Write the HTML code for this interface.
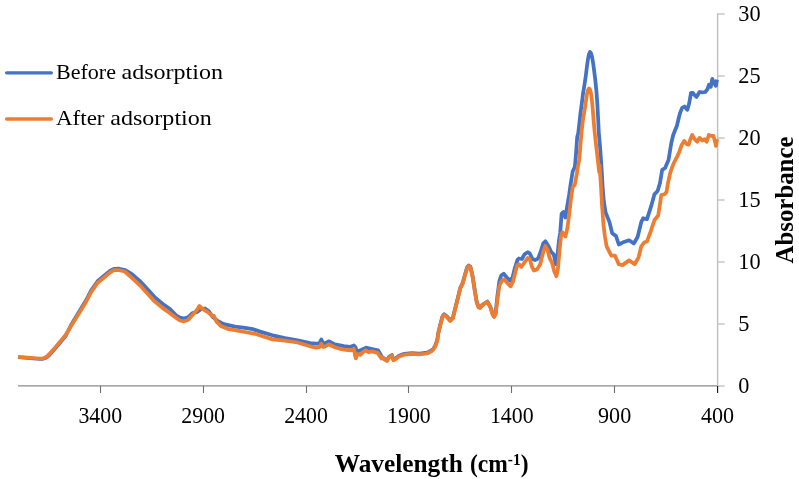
<!DOCTYPE html>
<html><head><meta charset="utf-8"><style>
html,body{margin:0;padding:0;background:#fff;}
svg{display:block;will-change:transform;}
.tl{font-family:"Liberation Serif",serif;font-size:22.3px;fill:#000;}
.lg{font-family:"Liberation Serif",serif;font-size:22px;fill:#000;}
.at{font-family:"Liberation Serif",serif;font-size:24.5px;font-weight:bold;fill:#000;}
</style></head><body>
<svg width="799" height="479" viewBox="0 0 799 479">
<line x1="18" y1="385.9" x2="717.6" y2="385.9" stroke="#8a8a8a" stroke-width="1.3"/>
<line x1="717.6" y1="13.3" x2="717.6" y2="386.5" stroke="#bfbfbf" stroke-width="1.4"/>
<line x1="717.6" y1="386.00" x2="724.7" y2="386.00" stroke="#bfbfbf" stroke-width="1.3"/>
<text x="738.3" y="392.60" class="tl">0</text>
<line x1="717.6" y1="324.00" x2="724.7" y2="324.00" stroke="#bfbfbf" stroke-width="1.3"/>
<text x="738.3" y="330.60" class="tl">5</text>
<line x1="717.6" y1="262.00" x2="724.7" y2="262.00" stroke="#bfbfbf" stroke-width="1.3"/>
<text x="738.3" y="268.60" class="tl">10</text>
<line x1="717.6" y1="200.00" x2="724.7" y2="200.00" stroke="#bfbfbf" stroke-width="1.3"/>
<text x="738.3" y="206.60" class="tl">15</text>
<line x1="717.6" y1="138.00" x2="724.7" y2="138.00" stroke="#bfbfbf" stroke-width="1.3"/>
<text x="738.3" y="144.60" class="tl">20</text>
<line x1="717.6" y1="76.00" x2="724.7" y2="76.00" stroke="#bfbfbf" stroke-width="1.3"/>
<text x="738.3" y="82.60" class="tl">25</text>
<line x1="717.6" y1="14.00" x2="724.7" y2="14.00" stroke="#bfbfbf" stroke-width="1.3"/>
<text x="738.3" y="20.60" class="tl">30</text>
<line x1="100.50" y1="386" x2="100.50" y2="393" stroke="#6e6e6e" stroke-width="1.1"/>
<text x="100.29" y="423.3" class="tl" text-anchor="middle" textLength="43.7" lengthAdjust="spacingAndGlyphs">3400</text>
<line x1="203.50" y1="386" x2="203.50" y2="393" stroke="#6e6e6e" stroke-width="1.1"/>
<text x="203.16" y="423.3" class="tl" text-anchor="middle" textLength="43.7" lengthAdjust="spacingAndGlyphs">2900</text>
<line x1="306.50" y1="386" x2="306.50" y2="393" stroke="#6e6e6e" stroke-width="1.1"/>
<text x="306.03" y="423.3" class="tl" text-anchor="middle" textLength="43.7" lengthAdjust="spacingAndGlyphs">2400</text>
<line x1="408.50" y1="386" x2="408.50" y2="393" stroke="#6e6e6e" stroke-width="1.1"/>
<text x="408.90" y="423.3" class="tl" text-anchor="middle" textLength="43.7" lengthAdjust="spacingAndGlyphs">1900</text>
<line x1="511.50" y1="386" x2="511.50" y2="393" stroke="#6e6e6e" stroke-width="1.1"/>
<text x="511.76" y="423.3" class="tl" text-anchor="middle" textLength="43.7" lengthAdjust="spacingAndGlyphs">1400</text>
<line x1="614.50" y1="386" x2="614.50" y2="393" stroke="#6e6e6e" stroke-width="1.1"/>
<text x="614.63" y="423.3" class="tl" text-anchor="middle" textLength="33.2" lengthAdjust="spacingAndGlyphs">900</text>
<line x1="717.60" y1="386" x2="717.60" y2="393" stroke="#111" stroke-width="1.1"/>
<text x="717.50" y="423.3" class="tl" text-anchor="middle" textLength="33.2" lengthAdjust="spacingAndGlyphs">400</text>
<polyline points="18,357.2 27.5,358 33,358.5 40.1,359 43,358.8 45.5,358 47.5,356.7 49.5,354.8 52.5,351.4 55.7,347.8 59,344 62,340.4 65.6,336 71.4,324.5 77.3,314.8 82,307 86,300.5 90.9,290.8 97.6,281.2 104.4,275.5 109.9,271 113.9,268.8 119.3,268.7 124.8,270 131.6,273.8 139.7,280.9 147.8,289.6 154.6,297.1 162.8,303.9 170,309.1 176.3,315.5 180,317.7 184,318.6 188,317.3 192.5,313 197.5,311.9 201.3,308.8 205,308.5 208.8,311.3 212.6,316.9 217.6,321 223.8,324.1 235.1,326.6 245.1,327.9 252.6,329.1 260.1,331.6 272.5,335.3 285,338.1 297.5,340.3 310.1,343.2 316.3,343.7 319.3,343.3 321.3,339.5 323.2,343.3 325.1,343.2 329.1,341.3 334.8,344.3 343.8,346.2 349.8,346.9 353.9,345.4 355.5,347.3 357,351.8 361.1,349.9 366,347.7 370.9,348.8 378,350.3 381.5,356.3 384.5,359 387,360.2 389.3,356.5 391.9,355 393.4,359.5 396,358 399,355.7 404.3,353.9 411.8,353.1 419.4,353.5 426.9,352.7 431.4,350.5 433.5,348.5 435.1,346 436.5,342.2 437.4,339.2 438.2,333.3 440.7,323 442.5,316.3 444.1,314.2 446.8,316.3 450.2,320.3 452.9,317.6 455.6,306.8 458.3,295.9 460.3,287.8 462.4,283.7 465.1,274.2 467.1,267.4 468.7,265.4 470.5,266.8 472.5,275.6 474.6,289.1 476.6,301.3 478.6,306.8 480.1,307.4 481.8,305.8 484.5,303.5 487.4,301.6 490.5,307 492.4,313.3 494,316.3 495.6,313.5 497.4,296 499.3,281.5 501.2,275.5 503.7,273.8 506.8,277.5 510,280.7 512.5,277.5 515,267.5 517.5,259.8 518.8,258.5 521.9,259 524.5,254.3 527.7,252.2 529.7,253.3 532.4,259 535,260.1 538.1,258.5 540.7,251.7 543.3,243.4 545.4,241.3 548,245.4 551.1,251.7 553.8,254.6 555.8,264.2 557.4,255.9 559,240.2 560.2,233 561.6,213.8 563.5,211.9 565.4,217.5 567.2,206.3 569.1,195 570.7,183.8 572.7,171.3 574.8,167.1 575.5,160 576.3,150 577.2,137 578.2,133.5 579.3,124 580.5,113 581.6,105 583.1,93 584.6,84 585.9,75 587,66 588,59 589,54 590,52 591,53.2 592,56.5 593.2,63.5 594.3,72 595.3,80 596.5,92 597.4,105 598.2,120 598.8,132.6 600,146 601,160 601.8,172 602.8,190 603.8,201.3 605.6,212.5 609.4,221.9 612.2,233.2 616,236 618.8,244.5 622.5,242.6 629.1,240.3 633.8,243.5 637.6,237 641.3,221.9 643.2,218.2 647,219.1 651,206.7 654.4,194.4 657.6,191 660,183 662.2,169.8 665.1,168 668.5,160 670,151 671.3,143 673.2,135 676.9,125.7 679,117 680.2,112.6 682.1,107.9 684.5,106.5 687.3,109.8 689.2,103.2 691,92.8 692.9,92.8 694.4,95 696.5,97 696.6,96.8 699.5,92 702.4,92.4 705.3,92 707.5,89.1 709,84.7 710.8,86.9 712.3,78.9 714.1,83.3 715.9,85.8 717,79.6" fill="none" stroke="#4472C4" stroke-width="3.75" stroke-linejoin="round" stroke-linecap="butt"/>
<polyline points="18,356.9 27.5,357.6 33,358 40.1,358.5 43,358.3 45.5,357.4 47.5,356 49.5,353.9 52.5,350.5 55.7,346.9 59,343 62,339.4 65.6,335 71.4,325.6 77.3,316.1 82,308.5 86,302 90.9,292.3 97.6,282.8 104.4,277.2 109.9,272.5 113.9,270.2 119.3,270.2 124.8,271.5 131.6,277.6 139.7,285.1 147.8,293.9 154.6,301.4 162.8,308.1 169.6,312.9 176.3,318 180,320.5 184,321.3 188,320 192.5,315 196.9,310 199.4,306 202.5,308.8 207.5,311.9 212.6,316.3 213.8,315.7 216.3,321.3 221.3,326.3 227.6,328.8 237.6,330.6 247.6,332.5 255.1,333.8 262.6,336.3 272.5,339.4 285,340.7 297.5,342.5 310.1,346.3 316.3,347.7 319.3,347.2 321.3,343.8 323.2,347 325.1,346.5 328.8,344.3 334.8,347.3 340,348.8 346,349.9 351.3,350.3 353.9,348.8 355.1,355.6 355.8,358.4 357,354.1 360.3,354.8 361.8,353.3 365.6,350.3 368.6,352.2 371.6,351.4 377.6,352.9 381.4,358.4 381.8,357.3 384.5,359.5 387,361 389.3,357.3 391.9,355.8 393.4,360.3 396,358.8 399,356.5 404.3,354.7 411.8,353.9 419.4,354.3 426.9,353.5 431.4,351.3 433.5,349.3 435.1,346.8 436.5,343 437.4,340 438.2,333.8 440.7,323.7 442.5,317 444.1,314.9 446.8,317 450.2,321 452.9,318.3 455.6,307.5 458.3,296.6 460.3,288.5 462.4,284.4 465.1,274.9 467.1,268.1 468.7,266.1 470.5,267.5 472.5,276.3 474.6,289.8 476.6,302 478.6,307.5 480.1,308.1 481.8,305.1 484.5,303.5 487.4,302 490.5,307.6 492.4,313.9 494,317 495.6,314.5 497.4,300.1 499.3,286.3 501.8,280.7 504.3,279.4 508.1,283.8 510.6,286.3 513.1,281.3 515.6,271.3 517.2,265.3 518.8,264.2 521.4,266.8 524,263.2 527.7,258 529.7,259 531.8,266.3 533.9,270.5 537.1,269.4 540.2,264.2 543.3,251.7 545.4,246 547.5,249.6 549.6,258 552.2,263.2 554.3,271.5 556.4,276.2 557.9,269.4 559.5,250.7 561.1,235.5 562.4,232.2 565.4,236.5 567.4,228 569.5,212 570.9,199.6 572.7,187 574.8,184.9 576.9,173.4 578.2,165 579.2,160 580.3,147 581.5,132.6 583.2,118 584.7,110 585.8,102 587,94 588,90 588.9,88.5 589.9,89.3 591,93.5 592,101 592.8,110 593.6,120 594.7,132.6 596.3,147 597.8,160 599.2,172 599.5,165 600.9,185 602,205 603.5,225 605,237 606.6,246.3 611.3,255.7 615,255.7 618.8,264.2 622.5,265.1 629.1,260.4 634.7,264.2 638.5,257.6 641.3,246.3 644.1,242.6 646.9,241.6 650.7,231.3 654.5,220 658.2,215.5 660,204 661.3,195 664.5,194.2 666.5,192 668,183 670.3,172.6 673.1,164.6 675.4,160 677.5,155.9 679.6,150.9 681.7,145 684.2,140.9 686.7,144.2 688.8,144.6 690.1,140 692.2,135 694.2,138.4 697.1,141.7 699.6,137.9 702.1,140.5 704.6,139.2 706.7,141.7 708.8,135 711.3,135.9 713.4,135.9 715.1,141.7 715.9,145.9 717.1,139.2" fill="none" stroke="#ED7D31" stroke-width="3.75" stroke-linejoin="round" stroke-linecap="butt"/>
<line x1="6.6" y1="72.8" x2="51.4" y2="72.8" stroke="#4472C4" stroke-width="3.3" stroke-linecap="round"/>
<line x1="6.6" y1="119" x2="51.4" y2="119" stroke="#ED7D31" stroke-width="3.3" stroke-linecap="round"/>
<text x="56" y="78.5" class="lg" textLength="60" lengthAdjust="spacingAndGlyphs">Before</text>
<text x="121.5" y="78.5" class="lg" textLength="101.5" lengthAdjust="spacingAndGlyphs">adsorption</text>
<text x="56" y="124.8" class="lg" textLength="48.5" lengthAdjust="spacingAndGlyphs">After</text>
<text x="110.3" y="124.8" class="lg" textLength="101.5" lengthAdjust="spacingAndGlyphs">adsorption</text>
<text x="334.8" y="472" class="at" textLength="128" lengthAdjust="spacingAndGlyphs">Wavelength</text>
<text x="470" y="472" class="at" textLength="58.5" lengthAdjust="spacingAndGlyphs">(cm<tspan font-size="16" dy="-7.3">-1</tspan><tspan dy="7.3">)</tspan></text>
<text transform="translate(793.3,263.5) rotate(-90)" x="0" y="0" class="at" textLength="127" lengthAdjust="spacingAndGlyphs">Absorbance</text>
</svg>
</body></html>
